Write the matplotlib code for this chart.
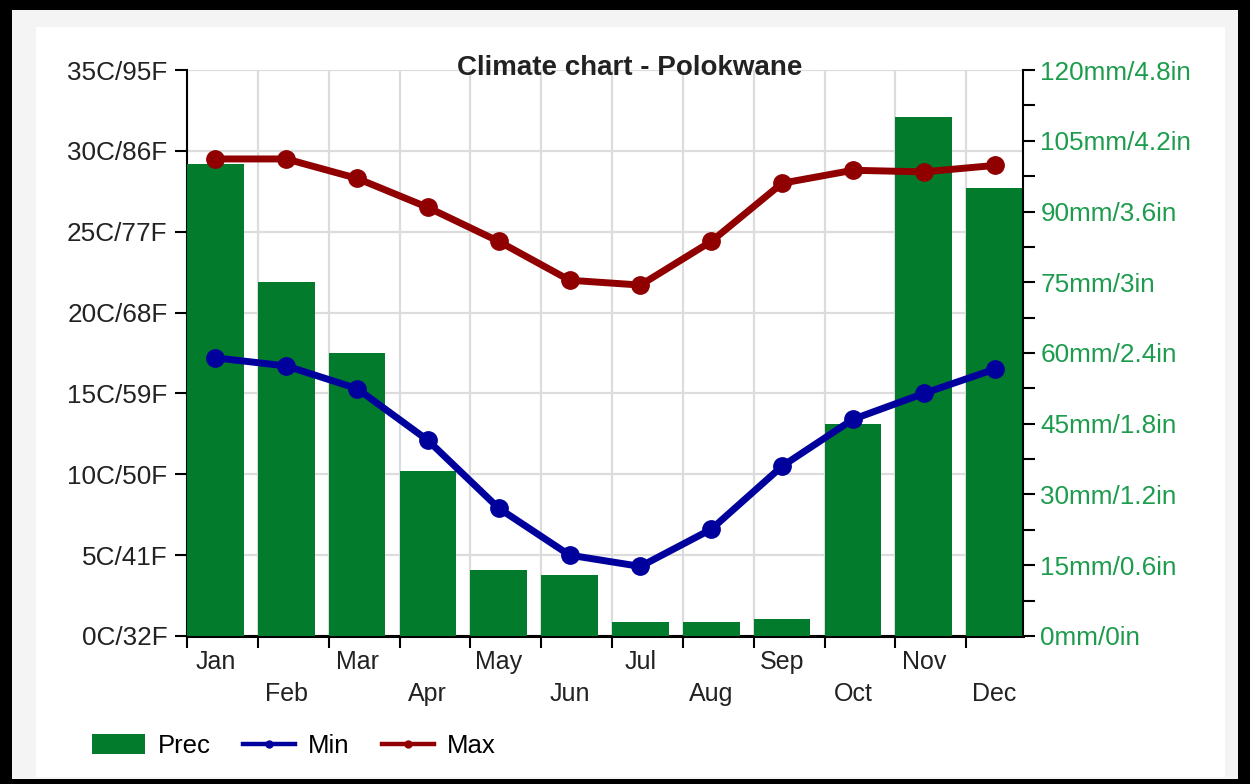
"""Climate chart for Polokwane: monthly precipitation bars with min/max temperature lines."""

import numpy as np
import matplotlib
matplotlib.use('Agg')
import matplotlib.pyplot as plt
from matplotlib.patches import Rectangle, Patch
from matplotlib.lines import Line2D

# Data
months = ['Jan', 'Feb', 'Mar', 'Apr', 'May', 'Jun',
          'Jul', 'Aug', 'Sep', 'Oct', 'Nov', 'Dec']
prec_mm = [100, 75, 60, 35, 14, 13, 3, 3, 3.5, 45, 110, 95]
t_min = [17.2, 16.7, 15.3, 12.1, 7.9, 5.0, 4.3, 6.6, 10.5, 13.4, 15.0, 16.5]
t_max = [29.5, 29.5, 28.3, 26.5, 24.4, 22.0, 21.7, 24.4, 28.0, 28.8, 28.7, 29.1]

temp_ticks = [0, 5, 10, 15, 20, 25, 30, 35]
temp_labels = ['0C/32F', '5C/41F', '10C/50F', '15C/59F',
               '20C/68F', '25C/77F', '30C/86F', '35C/95F']
prec_ticks = [0, 15, 30, 45, 60, 75, 90, 105, 120]
prec_labels = ['0mm/0in', '15mm/0.6in', '30mm/1.2in', '45mm/1.8in', '60mm/2.4in',
               '75mm/3in', '90mm/3.6in', '105mm/4.2in', '120mm/4.8in']

GREEN = '#037b2d'
RED = '#900000'
BLUE = '#00009c'
LABEL_GREEN = '#1e9c4e'
TEXT = '#222222'
GRID = '#dcdcdc'

plt.rcParams['font.family'] = ['Liberation Sans', 'DejaVu Sans']

fig = plt.figure(figsize=(12.5, 7.84), dpi=100, facecolor='black')

# Frame: black outside, light grey band, white panel (kept behind the axes)
fig.add_artist(Rectangle((0.0096, 0.0064), 0.9808, 0.9809,
                         transform=fig.transFigure, facecolor='#f4f4f4',
                         edgecolor='none', zorder=-10))
fig.add_artist(Rectangle((0.0288, 0.0089), 0.9512, 0.9566,
                         transform=fig.transFigure, facecolor='white',
                         edgecolor='none', zorder=-9))

# Temperature axis (grid + ticks), precipitation axis (bars), line axis on top
ax = fig.add_axes([0.1496, 0.1888, 0.6688, 0.7219])
ax2 = ax.twinx()
ax3 = ax.twinx()

x = np.arange(len(months))
centers = x + 0.4

ax.set_xlim(0, 11.8)
ax.set_ylim(0, 35)
ax.patch.set_visible(False)
ax.set_yticks(temp_ticks)
ax.set_yticklabels(temp_labels, fontsize=18.8, color=TEXT)
ax.set_xticks(x)
ax.set_xticklabels([])
ax.grid(True, color=GRID, linewidth=1.6)
ax.set_axisbelow(True)
ax.tick_params(axis='y', length=9, width=1.5, pad=5, color='black')
ax.tick_params(axis='x', length=8.5, width=1.5, color='black')
for side in ['top', 'right']:
    ax.spines[side].set_visible(False)
ax.spines['left'].set_linewidth(1.5)
ax.spines['bottom'].set_linewidth(2.2)

# Month labels in two staggered rows
for i, m in enumerate(months):
    y = -0.046 if i % 2 == 0 else -0.1025
    ax.text(centers[i], y, m, transform=ax.get_xaxis_transform(),
            ha='center', va='center', fontsize=18, color=TEXT)

# Precipitation bars
ax2.bar(x, prec_mm, width=0.8, align='edge', color=GREEN, zorder=2)
ax2.set_ylim(0, 120)
ax2.set_yticks(prec_ticks)
ax2.set_yticklabels(prec_labels, fontsize=18.8, color=LABEL_GREEN)
ax2.set_yticks(np.arange(7.5, 120, 15), minor=True)
ax2.tick_params(axis='y', which='both', length=8.5, width=1.5, pad=4, color='black')
for side in ['top', 'left', 'bottom']:
    ax2.spines[side].set_visible(False)
ax2.spines['right'].set_linewidth(1.5)

# Temperature lines
ax3.plot(centers, t_max, color=RED, linewidth=5, marker='o', markersize=12.5)
ax3.plot(centers, t_min, color=BLUE, linewidth=5, marker='o', markersize=12.5)
ax3.set_ylim(0, 35)
ax3.set_yticks([])
for s in ax3.spines.values():
    s.set_visible(False)

fig.text(0.5036, 0.9135, 'Climate chart - Polokwane', ha='center', va='center',
         fontsize=20, fontweight='bold', color=TEXT)

# Legend
handles = [
    Patch(facecolor=GREEN, edgecolor='none', label='Prec'),
    Line2D([0], [0], color=BLUE, linewidth=3.2, marker='o', markersize=5, label='Min'),
    Line2D([0], [0], color=RED, linewidth=3.2, marker='o', markersize=5, label='Max'),
]
fig.legend(handles=handles, loc='center left', bbox_to_anchor=(0.0736, 0.0485),
           ncol=3, frameon=False, fontsize=18.5, handlelength=2.05, handleheight=0.8,
           handletextpad=0.5, columnspacing=1.25, borderpad=0, borderaxespad=0)

fig.savefig('out.png', dpi=100, facecolor=fig.get_facecolor())
